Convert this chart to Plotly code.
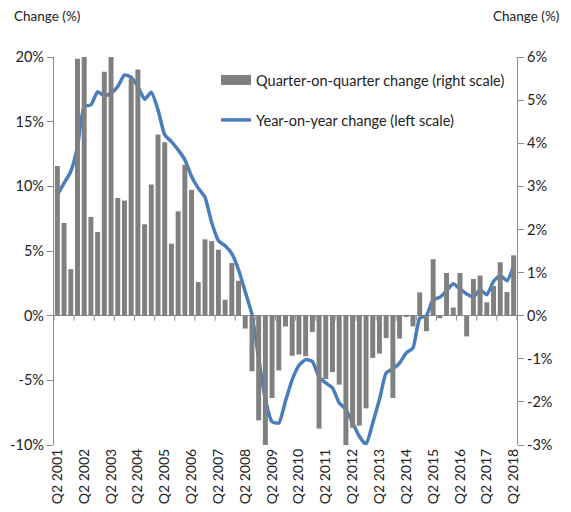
import plotly.graph_objects as go

# ---- data ----
quarters_per_year = 4
first_year = 2001
last_year = 2018

qoq_change = [
    3.47, 2.15, 1.08, 5.96, 6.00, 2.29, 1.94, 5.66, 6.00, 2.73,
    2.67, 5.50, 5.71, 2.12, 3.04, 4.20, 4.02, 1.67, 2.42, 3.50,
    2.92, 0.78, 1.77, 1.73, 1.53, 0.37, 1.22, 0.81, -0.30, -1.29,
    -2.43, -3.00, -1.91, -1.27, -0.25, -0.93, -0.90, -0.94, -0.38, -2.62,
    -1.47, -1.31, -1.60, -3.00, -2.60, -2.55, -2.15, -0.98, -0.88, -0.52,
    -1.91, -0.53, -0.03, -0.25, 0.54, -0.36, 1.31, -0.06, 0.99, 0.19,
    0.99, -0.48, 0.85, 0.93, 0.31, 0.69, 1.24, 0.55, 1.40,
]

yoy_change = [
    9.34, 10.24, 11.15, 13.08, 16.17, 16.29, 17.32, 16.99, 17.19, 17.71,
    18.61, 18.43, 17.71, 16.73, 17.27, 15.91, 13.98, 13.46, 12.82, 12.05,
    10.76, 9.86, 9.15, 7.20, 5.80, 5.40, 4.80, 3.55, 1.85, 0.10,
    -3.30, -6.50, -8.20, -8.30, -6.60, -4.94, -3.85, -3.40, -3.53, -4.74,
    -5.20, -5.59, -6.74, -7.26, -8.29, -9.32, -9.96, -8.30, -6.49, -4.43,
    -4.12, -3.66, -2.88, -2.50, -0.18, 0.00, 1.24, 1.42, 1.93, 2.47,
    2.06, 1.67, 1.42, 2.01, 1.62, 2.65, 3.11, 2.70, 3.81,
]

tick_labels = [f"Q2 {y}" for y in range(first_year, last_year + 1)]
tick_positions = [i * quarters_per_year for i in range(len(tick_labels))]

left_ticks = [-10, -5, 0, 5, 10, 15, 20]
left_tick_labels = ["-10%", "-5%", "0%", "5%", "10%", "15%", "20%"]
right_ticks = [-3, -2, -1, 0, 1, 2, 3, 4, 5, 6]
right_tick_labels = ["-3%", "-2%", "-1%", "0%", "1%", "2%", "3%", "4%", "5%", "6%"]

bar_name = "Quarter-on-quarter change (right scale)"
line_name = "Year-on-year change (left scale)"
axis_title = "Change (%)"

# ---- styles ----
FONT = "Lato, 'Open Sans', sans-serif"
GREY = "#808080"
AXIS_GREY = "#8c8c8c"
BLUE = "#4a7ebb"
TEXT = "#222222"

x = list(range(len(qoq_change)))
n = len(qoq_change)

fig = go.Figure()

fig.add_trace(go.Bar(
    x=x, y=qoq_change, yaxis="y2", name=bar_name,
    marker=dict(color=GREY, line=dict(width=0)),
    showlegend=False,
))

fig.add_trace(go.Scatter(
    x=x, y=yoy_change, yaxis="y", name=line_name, mode="lines",
    line=dict(color=BLUE, width=3.5, shape="spline", smoothing=0.5),
    legend="legend2",
))

# legend-only entry with a wide grey swatch for the bars
fig.add_trace(go.Scatter(
    x=[None], y=[None], mode="lines", name=bar_name,
    line=dict(color=GREY, width=10),
    legend="legend", hoverinfo="skip",
))

# category-axis tick marks along the zero line, every 3 quarters
for k in range(0, n // 3 + 1):
    xb = k * 3 - 0.5
    fig.add_shape(type="line", xref="x", yref="y", x0=xb, x1=xb,
                  ysizemode="pixel", yanchor=0, y0=0, y1=-5,
                  line=dict(color=AXIS_GREY, width=1), layer="above")

# the page body adds an 8px offset; keep the page free of scrollbars
fig.update_layout(
    width=563, height=496,
    margin=dict(l=46, r=54, t=49, b=59, autoexpand=False),
    paper_bgcolor="white", plot_bgcolor="white",
    font=dict(family=FONT, size=14, color=TEXT),
    bargap=0.26,
    xaxis=dict(
        range=[-0.5, n - 0.5], automargin=False,
        tickmode="array", tickvals=tick_positions, ticktext=tick_labels,
        tickangle=-90, ticks="", showline=False, showgrid=False,
        zeroline=False, tickfont=dict(size=14, color=TEXT),
    ),
    yaxis=dict(
        range=[-10, 20], automargin=False,
        tickmode="array", tickvals=left_ticks, ticktext=left_tick_labels,
        showgrid=False, showline=True, linecolor=AXIS_GREY, linewidth=1.3,
        ticks="outside", ticklen=6, tickcolor=AXIS_GREY,
        zeroline=True, zerolinecolor=AXIS_GREY, zerolinewidth=1.3,
        tickfont=dict(size=14.5, color=TEXT),
    ),
    yaxis2=dict(
        range=[-3, 6], automargin=False,
        tickmode="array", tickvals=right_ticks, ticktext=right_tick_labels,
        overlaying="y", side="right",
        showgrid=False, showline=True, linecolor=AXIS_GREY, linewidth=1.3,
        ticks="outside", ticklen=6, tickcolor=AXIS_GREY, zeroline=False,
        tickfont=dict(size=14.5, color=TEXT),
    ),
    legend=dict(x=0.35, y=0.9407, xanchor="left", yanchor="middle",
                bgcolor="rgba(0,0,0,0)", font=dict(size=14.5, color=TEXT)),
    legend2=dict(x=0.35, y=0.8376, xanchor="left", yanchor="middle",
                 bgcolor="rgba(0,0,0,0)", font=dict(size=14.5, color=TEXT)),
    annotations=[
        dict(text=axis_title, xref="paper", yref="paper", x=-0.0907, y=1.106,
             xanchor="left", yanchor="middle", showarrow=False,
             font=dict(size=13.5, color=TEXT)),
        dict(text=axis_title, xref="paper", yref="paper", x=1.094, y=1.106,
             xanchor="right", yanchor="middle", showarrow=False,
             font=dict(size=13.5, color=TEXT)),
    ],
)

fig.write_html("out.html")
